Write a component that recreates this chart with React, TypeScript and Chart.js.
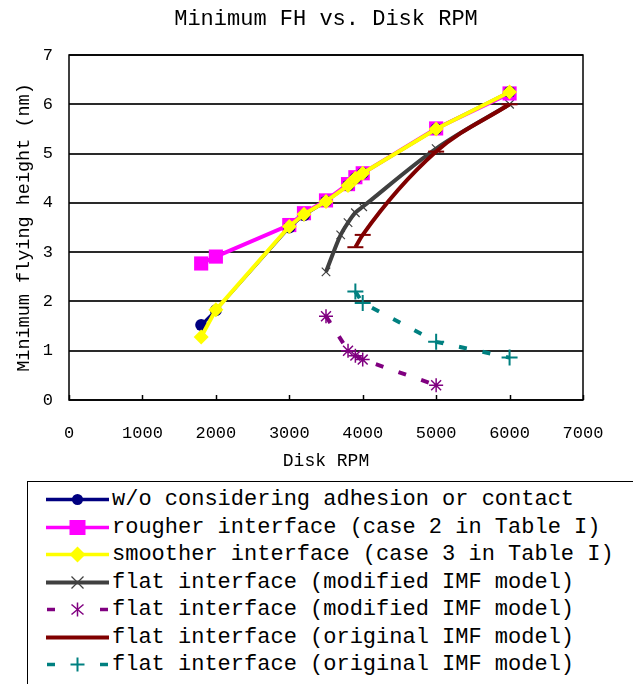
import React, { useEffect, useRef } from "react";
import { Chart, registerables } from "chart.js";

Chart.register(...registerables);

const chartTitle = "Minimum FH vs. Disk RPM";
const xAxisTitle = "Disk RPM";
const yAxisTitle = "Minimum flying height (nm)";
const xTickValues = [0, 1000, 2000, 3000, 4000, 5000, 6000, 7000];
const yTickValues = [0, 1, 2, 3, 4, 5, 6, 7];

const noAdhesionRpm = [1800, 2000, 3000, 3200, 3500, 3800, 3900, 4000, 5000, 6000];
const noAdhesionFh = [1.52, 1.82, 3.5, 3.75, 4.03, 4.35, 4.5, 4.6, 5.5, 6.25];
const rougherRpm = [1800, 2000, 3000, 3200, 3500, 3800, 3900, 4000, 5000, 6000];
const rougherFh = [2.77, 2.91, 3.55, 3.79, 4.05, 4.38, 4.52, 4.6, 5.51, 6.22];
const smootherRpm = [1800, 2000, 3000, 3200, 3500, 3800, 3900, 4000, 5000, 6000];
const smootherFh = [1.28, 1.83, 3.52, 3.77, 4.03, 4.35, 4.5, 4.6, 5.5, 6.25];
const flatModRpm = [3500, 3700, 3800, 3900, 4000, 5000, 6000];
const flatModFh = [2.6, 3.35, 3.6, 3.8, 3.92, 5.1, 6.0];
const flatModDashRpm = [3500, 3800, 3900, 4000, 5000];
const flatModDashFh = [1.7, 1.0, 0.9, 0.82, 0.3];
const flatOrigRpm = [3900, 4000, 5000, 6000];
const flatOrigFh = [3.1, 3.35, 5.04, 6.0];
const flatOrigDashRpm = [3900, 4000, 5000, 6000];
const flatOrigDashFh = [2.2, 1.97, 1.18, 0.86];

const legendLabels = [
  "w/o considering adhesion or contact",
  "rougher interface (case 2 in Table I)",
  "smoother interface (case 3 in Table I)",
  "flat interface (modified IMF model)",
  "flat interface (modified IMF model)",
  "flat interface (original IMF model)",
  "flat interface (original IMF model)",
];

const NAVY = "#000080";
const MAGENTA = "#ff00ff";
const YELLOW = "#ffff00";
const GRAY = "#404040";
const PURPLE = "#800080";
const DARKRED = "#800000";
const TEAL = "#008080";

const MONO = "'Liberation Mono', 'DejaVu Sans Mono', monospace";

const pts = (xs: number[], ys: number[]) => xs.map((x, i) => ({ x, y: ys[i] }));

const framePlugin = {
  id: "frame",
  beforeDatasetsDraw(chart: any) {
    const { ctx, chartArea } = chart;
    const xs = chart.scales.x;
    ctx.save();
    ctx.strokeStyle = "#000";
    ctx.lineWidth = 1.5;
    ctx.strokeRect(chartArea.left, chartArea.top, chartArea.right - chartArea.left, chartArea.bottom - chartArea.top);
    for (const v of xTickValues) {
      const px = Math.round(xs.getPixelForValue(v)) + 0.5;
      ctx.beginPath();
      ctx.moveTo(px, chartArea.bottom);
      ctx.lineTo(px, chartArea.bottom - 5);
      ctx.stroke();
    }
    ctx.restore();
  },
  afterDraw(chart: any) {
    const { ctx, chartArea } = chart;
    ctx.save();
    ctx.fillStyle = "#000";
    ctx.font = `22px ${MONO}`;
    ctx.textAlign = "center";
    ctx.textBaseline = "middle";
    ctx.fillText(chartTitle, (chartArea.left + chartArea.right) / 2, 19);
    ctx.restore();
  },
};

function LegendSample({ idx }: { idx: number }) {
  const w = 63;
  const h = 27;
  const cy = 13.5;
  const cx = 31.5;
  switch (idx) {
    case 0:
      return (
        <svg width={w} height={h}>
          <line x1={0} y1={cy} x2={w} y2={cy} stroke={NAVY} strokeWidth={3.5} />
          <circle cx={cx} cy={cy} r={5.5} fill={NAVY} />
        </svg>
      );
    case 1:
      return (
        <svg width={w} height={h}>
          <line x1={0} y1={cy} x2={w} y2={cy} stroke={MAGENTA} strokeWidth={3.5} />
          <rect x={cx - 8} y={cy - 7.5} width={16} height={15} fill={MAGENTA} />
        </svg>
      );
    case 2:
      return (
        <svg width={w} height={h}>
          <line x1={0} y1={cy} x2={w} y2={cy} stroke={YELLOW} strokeWidth={3.5} />
          <polygon points={`${cx - 8},${cy} ${cx},${cy - 8} ${cx + 8},${cy} ${cx},${cy + 8}`} fill={YELLOW} />
        </svg>
      );
    case 3:
      return (
        <svg width={w} height={h}>
          <line x1={0} y1={cy} x2={w} y2={cy} stroke={GRAY} strokeWidth={4} />
          <line x1={cx - 6} y1={cy - 6} x2={cx + 6} y2={cy + 6} stroke={GRAY} strokeWidth={1.2} />
          <line x1={cx - 6} y1={cy + 6} x2={cx + 6} y2={cy - 6} stroke={GRAY} strokeWidth={1.2} />
        </svg>
      );
    case 4:
      return (
        <svg width={w} height={h}>
          <line x1={1} y1={cy} x2={9} y2={cy} stroke={PURPLE} strokeWidth={3.5} />
          <line x1={54} y1={cy} x2={62} y2={cy} stroke={PURPLE} strokeWidth={3.5} />
          <line x1={cx} y1={cy - 7} x2={cx} y2={cy + 7} stroke={PURPLE} strokeWidth={1.5} />
          <line x1={cx - 6} y1={cy - 5} x2={cx + 6} y2={cy + 5} stroke={PURPLE} strokeWidth={1.5} />
          <line x1={cx - 6} y1={cy + 5} x2={cx + 6} y2={cy - 5} stroke={PURPLE} strokeWidth={1.5} />
        </svg>
      );
    case 5:
      return (
        <svg width={w} height={h}>
          <line x1={0} y1={cy} x2={w} y2={cy} stroke={DARKRED} strokeWidth={4} />
        </svg>
      );
    default:
      return (
        <svg width={w} height={h}>
          <line x1={1} y1={cy} x2={9} y2={cy} stroke={TEAL} strokeWidth={3.5} />
          <line x1={54} y1={cy} x2={62} y2={cy} stroke={TEAL} strokeWidth={3.5} />
          <line x1={cx} y1={cy - 7} x2={cx} y2={cy + 7} stroke={TEAL} strokeWidth={2} />
          <line x1={cx - 7} y1={cy} x2={cx + 7} y2={cy} stroke={TEAL} strokeWidth={2} />
        </svg>
      );
  }
}

export default function App() {
  const canvasRef = useRef<HTMLCanvasElement | null>(null);

  useEffect(() => {
    const canvas = canvasRef.current;
    if (!canvas) return;
    const chart = new Chart(canvas, {
      type: "line",
      data: {
        datasets: [
          {
            label: legendLabels[0],
            data: pts(noAdhesionRpm, noAdhesionFh),
            borderColor: NAVY,
            backgroundColor: NAVY,
            borderWidth: 3,
            pointStyle: "circle",
            pointRadius: 6,
            pointBorderWidth: 0,
            order: 1,
          },
          {
            label: legendLabels[1],
            data: pts(rougherRpm, rougherFh),
            borderColor: MAGENTA,
            backgroundColor: MAGENTA,
            borderWidth: 4,
            pointStyle: "rect",
            pointRadius: 10,
            pointBorderWidth: 0,
            order: 2,
          },
          {
            label: legendLabels[2],
            data: pts(smootherRpm, smootherFh),
            borderColor: YELLOW,
            backgroundColor: YELLOW,
            borderWidth: 4,
            pointStyle: "rectRot",
            pointRadius: 7.5,
            pointBorderWidth: 0,
            order: 0,
          },
          {
            label: legendLabels[3],
            data: pts(flatModRpm, flatModFh),
            borderColor: GRAY,
            backgroundColor: GRAY,
            borderWidth: 4,
            cubicInterpolationMode: "monotone",
            pointStyle: "crossRot",
            pointRadius: 6,
            pointBorderWidth: 1.2,
            pointBorderColor: GRAY,
            order: 4,
          },
          {
            label: legendLabels[4],
            data: pts(flatModDashRpm, flatModDashFh),
            borderColor: PURPLE,
            backgroundColor: PURPLE,
            borderWidth: 4,
            borderDash: [8, 16],
            pointStyle: "star",
            pointRadius: 7,
            pointBorderWidth: 1.5,
            pointBorderColor: PURPLE,
            order: 5,
          },
          {
            label: legendLabels[5],
            data: pts(flatOrigRpm, flatOrigFh),
            borderColor: DARKRED,
            backgroundColor: DARKRED,
            borderWidth: 4,
            cubicInterpolationMode: "monotone",
            pointStyle: "line",
            pointRadius: 8,
            pointBorderWidth: 2,
            pointBorderColor: DARKRED,
            order: 3,
          },
          {
            label: legendLabels[6],
            data: pts(flatOrigDashRpm, flatOrigDashFh),
            borderColor: TEAL,
            backgroundColor: TEAL,
            borderWidth: 4,
            borderDash: [8, 16],
            pointStyle: "cross",
            pointRadius: 8,
            pointBorderWidth: 2,
            pointBorderColor: TEAL,
            order: 6,
          },
        ],
      },
      options: {
        animation: false,
        responsive: false,
        devicePixelRatio: 1,
        layout: { padding: { left: 0, right: 50, top: 55, bottom: 0 } },
        plugins: {
          legend: { display: false },
          tooltip: { enabled: false },
          title: { display: false },
        },
        scales: {
          x: {
            type: "linear",
            min: 0,
            max: 7000,
            afterFit(scale: any) {
              scale.height = 72;
            },
            afterBuildTicks(scale: any) {
              scale.ticks = xTickValues.map((v) => ({ value: v }));
            },
            grid: { display: false, drawTicks: false },
            border: { display: false },
            ticks: {
              color: "#000",
              padding: 23,
              maxRotation: 0,
              autoSkip: false,
              font: { family: MONO, size: 17 },
              callback: (v: any) => String(v),
            },
            title: {
              display: true,
              text: xAxisTitle,
              color: "#000",
              font: { family: MONO, size: 18, lineHeight: 1.2 },
              padding: { top: 0, bottom: 0 },
            },
          },
          y: {
            type: "linear",
            min: 0,
            max: 7,
            afterFit(scale: any) {
              scale.width = 69;
            },
            afterBuildTicks(scale: any) {
              scale.ticks = yTickValues.map((v) => ({ value: v }));
            },
            grid: { color: "#2a2a2a", lineWidth: 2, drawTicks: false },
            border: { display: false },
            ticks: {
              color: "#000",
              padding: 16,
              font: { family: MONO, size: 17 },
              callback: (v: any) => String(v),
            },
            title: {
              display: true,
              text: yAxisTitle,
              color: "#000",
              font: { family: MONO, size: 18.5, lineHeight: 1.2 },
              padding: { top: 13, bottom: 0 },
            },
          },
        },
      },
      plugins: [framePlugin],
    } as any);
    return () => chart.destroy();
  }, []);

  return (
    <div
      style={{
        position: "fixed",
        left: 0,
        top: 0,
        width: 633,
        height: 684,
        overflow: "hidden",
        background: "#fff",
      }}
    >
      <canvas ref={canvasRef} width={633} height={472} style={{ display: "block", width: 633, height: 472 }} />
      <div
        style={{
          position: "absolute",
          left: 27,
          top: 481,
          width: 640,
          height: 198,
          border: "1px solid #000",
          boxSizing: "content-box",
          paddingTop: 4,
        }}
      >
        {legendLabels.map((label, i) => (
          <div
            key={i}
            style={{
              display: "flex",
              alignItems: "center",
              height: 27.5,
              paddingLeft: 18,
            }}
          >
            <LegendSample idx={i} />
            <span
              style={{
                marginLeft: 3,
                fontFamily: MONO,
                fontSize: 22,
                lineHeight: "27.5px",
                whiteSpace: "pre",
                color: "#000",
              }}
            >
              {label}
            </span>
          </div>
        ))}
      </div>
    </div>
  );
}
